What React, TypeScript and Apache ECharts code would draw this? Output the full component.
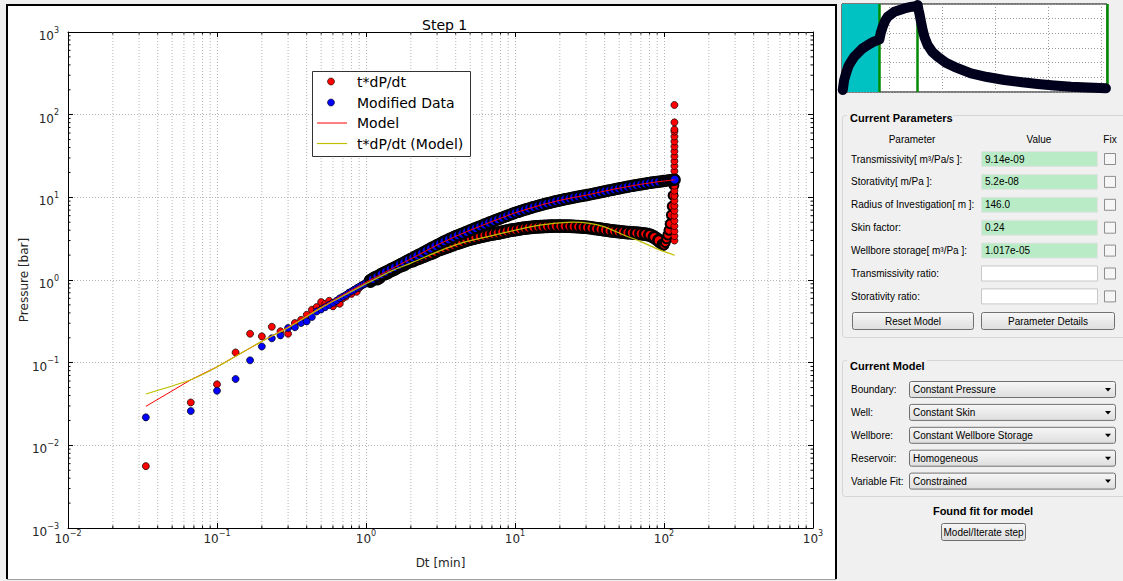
import React, { useEffect, useRef } from "react";
import * as echarts from "echarts";

// ---------- main log-log data ----------
const redEarlyDt = [0.0333, 0.0667, 0.1, 0.1333, 0.1667, 0.2, 0.2333, 0.2667, 0.3, 0.3333, 0.3667, 0.4, 0.4333, 0.4667, 0.5, 0.5333, 0.5667, 0.6, 0.6333, 0.6667, 0.7, 0.7333, 0.7667, 0.8, 0.8333, 0.8667, 0.9, 0.9333, 0.9667, 1.0];
const redEarlyP = [0.0056, 0.033, 0.0546, 0.133, 0.224, 0.208, 0.272, 0.24, 0.224, 0.302, 0.33, 0.38, 0.437, 0.471, 0.542, 0.516, 0.56, 0.48, 0.53, 0.516, 0.6, 0.63, 0.697, 0.68, 0.76, 0.72, 0.8, 0.86, 0.88, 0.92];

const blueEarlyDt = redEarlyDt;
const blueEarlyP = [0.0218, 0.026, 0.0458, 0.0635, 0.1067, 0.157, 0.197, 0.214, 0.263, 0.268, 0.302, 0.316, 0.357, 0.417, 0.44, 0.47, 0.5, 0.53, 0.56, 0.6, 0.63, 0.66, 0.7, 0.73, 0.76, 0.8, 0.83, 0.86, 0.89, 0.93];

const denseDt = [1.07, 1.15, 1.23, 1.32, 1.41, 1.51, 1.62, 1.74, 1.86, 2.0, 2.14, 2.29, 2.45, 2.63, 2.82, 3.02, 3.24, 3.47, 3.72, 3.98, 4.27, 4.57, 4.9, 5.25, 5.62, 6.03, 6.46, 6.92, 7.41, 7.94, 8.51, 9.12, 9.77, 10.5, 11.2, 12.0, 12.9, 13.8, 14.8, 15.8, 17.0, 18.2, 19.5, 20.9, 22.4, 24.0, 25.7, 27.5, 29.5, 31.6, 33.9, 36.3, 38.9, 41.7, 44.7, 47.9, 51.3, 55.0, 58.9, 63.1, 67.6, 72.4, 77.6, 83.2, 89.1, 95.5];
const redDenseP = [0.97, 1.06, 1.08, 1.2, 1.25, 1.33, 1.42, 1.5, 1.6, 1.7, 1.78, 1.85, 1.95, 2.05, 2.15, 2.3, 2.4, 2.5, 2.62, 2.75, 2.86, 2.97, 3.1, 3.2, 3.3, 3.4, 3.5, 3.58, 3.66, 3.75, 3.85, 3.95, 4.05, 4.12, 4.2, 4.27, 4.33, 4.38, 4.42, 4.45, 4.48, 4.5, 4.5, 4.5, 4.48, 4.46, 4.43, 4.4, 4.35, 4.3, 4.22, 4.15, 4.08, 4.0, 3.93, 3.87, 3.82, 3.77, 3.73, 3.7, 3.66, 3.62, 3.55, 3.4, 3.15, 2.85];
const blueDenseP = [1.0, 1.07, 1.14, 1.22, 1.3, 1.39, 1.48, 1.58, 1.69, 1.8, 1.92, 2.04, 2.18, 2.33, 2.5, 2.66, 2.84, 3.02, 3.2, 3.38, 3.55, 3.73, 3.93, 4.14, 4.35, 4.57, 4.8, 5.05, 5.3, 5.55, 5.82, 6.1, 6.4, 6.67, 6.93, 7.2, 7.48, 7.76, 8.05, 8.3, 8.57, 8.84, 9.1, 9.35, 9.6, 9.85, 10.1, 10.35, 10.55, 10.8, 11.1, 11.4, 11.7, 12.0, 12.3, 12.65, 12.95, 13.3, 13.6, 13.9, 14.2, 14.5, 14.8, 15.1, 15.35, 15.6];

const midDt = [1.11, 1.19, 1.27, 1.36, 1.46, 1.56, 1.68, 1.8, 1.93, 2.07, 2.21, 2.37, 2.54, 2.72, 2.92, 3.13, 3.35, 3.59, 3.85, 4.12, 4.42, 4.73, 5.07, 5.43, 5.82, 6.24, 6.68, 7.16, 7.67, 8.22, 8.81, 9.44, 10.1, 10.8, 11.6, 12.4, 13.3, 14.3, 15.3, 16.4, 17.6, 18.8, 20.2, 21.6, 23.2, 24.8, 26.6, 28.5, 30.5, 32.7, 35.1, 37.6, 40.3, 43.2, 46.3, 49.6, 53.1, 56.9, 61.0, 65.3, 70.0, 75.0, 80.4, 86.1, 92.3];
const blueMidP = [1.03, 1.11, 1.18, 1.26, 1.35, 1.43, 1.53, 1.63, 1.75, 1.86, 1.98, 2.11, 2.26, 2.42, 2.58, 2.75, 2.93, 3.11, 3.29, 3.47, 3.64, 3.83, 4.04, 4.25, 4.46, 4.69, 4.93, 5.18, 5.43, 5.69, 5.96, 6.25, 6.54, 6.8, 7.07, 7.34, 7.62, 7.9, 8.18, 8.44, 8.7, 8.97, 9.22, 9.48, 9.72, 9.97, 10.22, 10.45, 10.68, 10.95, 11.25, 11.55, 11.85, 12.15, 12.48, 12.8, 13.12, 13.45, 13.75, 14.05, 14.35, 14.65, 14.95, 15.22, 15.48];
const redMidP = [1.02, 1.04, 1.16, 1.2, 1.3, 1.36, 1.47, 1.54, 1.66, 1.72, 1.82, 1.9, 2.0, 2.1, 2.22, 2.35, 2.45, 2.56, 2.68, 2.8, 2.92, 3.04, 3.15, 3.25, 3.35, 3.45, 3.54, 3.62, 3.7, 3.8, 3.9, 4.0, 4.08, 4.16, 4.23, 4.3, 4.35, 4.4, 4.43, 4.46, 4.49, 4.5, 4.5, 4.49, 4.47, 4.45, 4.42, 4.37, 4.32, 4.26, 4.18, 4.12, 4.04, 3.96, 3.9, 3.84, 3.8, 3.75, 3.72, 3.68, 3.64, 3.59, 3.48, 3.28, 3.0];

const redHookDt = [97, 98.5, 100, 102, 104, 106, 108, 110, 112, 113.5, 115, 116.5];
const redHookP = [2.7, 2.62, 2.65, 2.85, 3.15, 3.5, 4.0, 4.8, 6.1, 7.8, 10.5, 14];
const redColumnDt = 117.5;
const redColumnP = [3.0, 3.4, 3.9, 4.5, 5.2, 6.0, 6.9, 7.9, 9.1, 10.4, 12.0, 13.8, 15.8, 18.1, 20.8, 23.9, 27.4, 31.4, 36, 41.3, 47.4, 54.4, 62.4, 66, 80.7, 131];

const blueTailDt = [99, 102, 106, 110, 114, 118];
const blueTailP = [15.75, 15.85, 16.0, 16.1, 16.2, 16.35];

const modelDt = [0.0333, 0.0667, 0.1, 0.15, 0.2, 0.3, 0.5, 0.7, 1.0, 1.5, 2.0, 3.0, 4.0, 5.0, 7.0, 10, 15, 20, 25, 30, 40, 50, 70, 90, 118];
const modelP = [0.0296, 0.062, 0.089, 0.135, 0.181, 0.27, 0.47, 0.66, 0.94, 1.38, 1.8, 2.65, 3.38, 4.0, 5.1, 6.5, 8.1, 9.2, 10.0, 10.6, 11.9, 12.9, 14.4, 15.4, 16.3];

const derivModelDt = [0.0333, 0.0667, 0.1, 0.2, 0.3, 0.5, 0.7, 1.0, 1.5, 2.0, 3.12, 4.5, 6.78, 10, 14.7, 20, 24.6, 31.7, 40, 53.6, 68.7, 89, 118];
const derivModelP = [0.0418, 0.0622, 0.0887, 0.181, 0.265, 0.46, 0.64, 0.9, 1.3, 1.6, 2.25, 2.85, 3.4, 4.0, 4.6, 4.9, 5.0, 4.85, 4.4, 3.5, 2.95, 2.4, 1.99];

const xDecades = [0.01, 0.1, 1, 10, 100];
const yDecades = [0.001, 0.01, 0.1, 1, 10, 100];
const minorMultipliers = [2, 3, 4, 5, 6, 7, 8, 9];

// ---------- thumbnail data ----------
const thumbT = [0.7, 2, 3.8, 6, 8.5, 11.5, 14.8, 19, 24.2, 29, 33.7, 35.3, 36.5, 38.4, 41, 43.1, 49.4, 58.9, 65, 69.8, 71.4, 72.2, 73, 74.5, 76.1, 78, 80.8, 85, 90.3, 98, 106, 121.7, 137, 153.2, 170, 184.6, 200, 216, 232, 249];
const thumbP = [0.14, 0.8, 1.27, 1.75, 2.07, 2.4, 2.64, 2.95, 3.2, 3.4, 3.54, 3.59, 4.0, 4.45, 4.9, 5.13, 5.47, 5.7, 5.8, 5.86, 5.93, 5.6, 5.36, 4.8, 4.23, 3.7, 3.2, 2.75, 2.41, 2.0, 1.72, 1.27, 1.02, 0.82, 0.66, 0.55, 0.45, 0.36, 0.3, 0.25];
const thumbGridT = [45, 95, 145, 195, 245];
const thumbMarkers = [35.3, 71.4, 250];

// ---------- panel texts ----------
const paramLabels = ["Transmissivity[ m³/Pa/s ]:", "Storativity[ m/Pa ]:", "Radius of Investigation[ m ]:", "Skin factor:", "Wellbore storage[ m³/Pa ]:", "Transmissivity ratio:", "Storativity ratio:"];
const paramValues = ["9.14e-09", "5.2e-08", "146.0", "0.24", "1.017e-05", "", ""];
const modelLabels = ["Boundary:", "Well:", "Wellbore:", "Reservoir:", "Variable Fit:"];
const modelChoices = ["Constant Pressure", "Constant Skin", "Constant Wellbore Storage", "Homogeneous", "Constrained"];
const legendNames = ["t*dP/dt", "Modified Data", "Model", "t*dP/dt (Model)"];

const MPL = "'DejaVu Sans', sans-serif";
const UI = "'Liberation Sans', Arial, sans-serif";
const RED = "#ff0000";
const BLUE = "#0000ff";
const YEL = "#bfbf00";

function zip(a: number[], b: number[]) {
  return a.map((v, i) => [v, b[i]]);
}

function supLabel(v: number) {
  const e = Math.round(Math.log10(v));
  const s = e < 0 ? "\u2212" + -e : String(e);
  return "{b|10}{s|" + s + "}";
}

function txt(x: number, y: number, text: string, o: any = {}) {
  return {
    type: "text",
    x,
    y,
    z: 50,
    silent: true,
    style: {
      text,
      fill: o.fill || "#000",
      font: (o.bold ? "bold " : "") + (o.size || 10) + "px " + (o.family || UI),
      textAlign: o.align || "left",
      textVerticalAlign: "middle",
      verticalAlign: "middle",
    },
  };
}

function rect(x: number, y: number, w: number, h: number, style: any, r = 0, z = 40) {
  return { type: "rect", z, silent: true, shape: { x, y, width: w, height: h, r }, style };
}

const btnFill = {
  type: "linear",
  x: 0,
  y: 0,
  x2: 0,
  y2: 1,
  colorStops: [
    { offset: 0, color: "#f7f7f7" },
    { offset: 1, color: "#dedede" },
  ],
};

function buildGraphic() {
  const g: any[] = [];
  g.push(rect(7, 5, 829, 574, { fill: "#ffffff" }, 0, -1));
  g.push({ type: "polyline", z: 60, silent: true, shape: { points: [[7, 579], [7, 5], [836, 5], [836, 579]] }, style: { stroke: "#000", lineWidth: 2, fill: null } });
  g.push({ type: "line", z: 60, silent: true, shape: { x1: 7, y1: 579.5, x2: 836, y2: 579.5 }, style: { stroke: "#a0a0a0", lineWidth: 1 } });

  // legend
  g.push(rect(312.5, 71.5, 158, 85, { fill: "#fff", stroke: "#333", lineWidth: 1 }, 0, 100));
  const ly = [81.5, 102.5, 123, 143.5];
  g.push({ type: "circle", z: 101, silent: true, shape: { cx: 331, cy: ly[0], r: 3.5 }, style: { fill: RED, stroke: "#000", lineWidth: 0.6 } });
  g.push({ type: "circle", z: 101, silent: true, shape: { cx: 331, cy: ly[1], r: 3.5 }, style: { fill: BLUE, stroke: "#000", lineWidth: 0.6 } });
  g.push({ type: "line", z: 101, silent: true, shape: { x1: 317, y1: ly[2], x2: 347, y2: ly[2] }, style: { stroke: RED, lineWidth: 1 } });
  g.push({ type: "line", z: 101, silent: true, shape: { x1: 317, y1: ly[3], x2: 347, y2: ly[3] }, style: { stroke: YEL, lineWidth: 1.2 } });
  legendNames.forEach((n, i) => {
    const t: any = txt(357, ly[i], n, { size: 14, family: MPL });
    t.z = 101;
    g.push(t);
  });

  // ---- right panel ----
  g.push(rect(842.5, 115.5, 290, 222, { fill: "#f0f0f0", stroke: "#d5d5d5", lineWidth: 1 }, 3, 30));
  g.push(rect(847, 110, 106, 14, { fill: "#f0f0f0" }, 0, 31));
  g.push(txt(850, 118, "Current Parameters", { bold: true, size: 11 }));
  g.push(txt(912, 139, "Parameter", { align: "center" }));
  g.push(txt(1039, 139, "Value", { align: "center" }));
  g.push(txt(1110, 139, "Fix", { align: "center" }));
  paramLabels.forEach((lab, i) => {
    const cy = 159 + i * 22.9;
    g.push(txt(851, cy, lab));
    const filled = paramValues[i] !== "";
    g.push(rect(981.5, cy - 7.5, 116, 15, { fill: filled ? "#b9ecc6" : "#ffffff", stroke: filled ? "#e2e2e2" : "#c8c8c8", lineWidth: 1 }, 0, 40));
    if (filled) g.push(txt(985, cy, paramValues[i]));
    g.push(rect(1104.5, cy - 5.5, 11, 11, { fill: "#f6f6f6", stroke: "#8e8e8e", lineWidth: 1 }, 0, 40));
  });
  g.push(rect(852.5, 312.5, 121, 17, { fill: btnFill, stroke: "#707070", lineWidth: 1 }, 2, 40));
  g.push(txt(913, 321, "Reset Model", { align: "center" }));
  g.push(rect(981.5, 312.5, 133, 17, { fill: btnFill, stroke: "#707070", lineWidth: 1 }, 2, 40));
  g.push(txt(1048, 321, "Parameter Details", { align: "center" }));

  g.push(rect(842.5, 360.5, 290, 136, { fill: "#f0f0f0", stroke: "#d5d5d5", lineWidth: 1 }, 3, 30));
  g.push(rect(847, 358, 80, 14, { fill: "#f0f0f0" }, 0, 31));
  g.push(txt(850, 366, "Current Model", { bold: true, size: 11 }));
  modelLabels.forEach((lab, i) => {
    const cy = 389.5 + i * 22.9;
    g.push(txt(851, cy, lab));
    g.push(rect(909.5, cy - 8, 206, 16, { fill: btnFill, stroke: "#707070", lineWidth: 1 }, 2, 40));
    g.push(txt(913, cy, modelChoices[i]));
    g.push({ type: "polygon", z: 50, silent: true, shape: { points: [[1105, cy - 1.5], [1111, cy - 1.5], [1108, cy + 2]] }, style: { fill: "#000" } });
  });

  g.push(txt(983, 511, "Found fit for model", { bold: true, size: 11, align: "center" }));
  g.push(rect(941.5, 523.5, 84, 17, { fill: btnFill, stroke: "#707070", lineWidth: 1 }, 2, 40));
  g.push(txt(983.5, 532, "Model/Iterate step", { align: "center" }));
  return g;
}

export default function App() {
  const ref = useRef<HTMLDivElement>(null);
  useEffect(() => {
    if (!ref.current) return;
    const chart = echarts.init(ref.current, undefined, { renderer: "svg" });

    const dense = (pairs: number[][], size: number, bw: number) =>
      pairs.map((v) => ({ value: v, symbolSize: size, itemStyle: { borderWidth: bw } }));

    const redData: any[] = (zip(redEarlyDt, redEarlyP) as any[])
      .concat(dense(zip(denseDt, redDenseP), 11, 2.6))
      .concat(dense(zip(midDt, redMidP), 11, 2.6))
      .concat(dense(zip(redHookDt, redHookP), 9, 2))
      .concat(redColumnP.map((p) => [redColumnDt, p]));
    const blueData: any[] = (zip(blueEarlyDt, blueEarlyP) as any[])
      .concat(dense(zip(denseDt, blueDenseP), 10, 2.2))
      .concat(dense(zip(midDt, blueMidP), 10, 2.2))
      .concat(dense(zip(blueTailDt, blueTailP), 10, 2.2));

    const minorX: number[] = [];
    xDecades.forEach((d) => minorMultipliers.forEach((m) => minorX.push(d * m)));
    const minorY: number[] = [];
    yDecades.forEach((d) => minorMultipliers.forEach((m) => minorY.push(d * m)));
    const minorData = minorX.map((v) => [v, 1, 0]).concat(minorY.map((v) => [1, v, 1]));

    const gridDot = { color: "#b4b4b4", width: 1, type: [1, 2] as any };
    const rich = {
      b: { fontSize: 12, fontFamily: MPL, color: "#262626", lineHeight: 16, verticalAlign: "bottom" },
      s: { fontSize: 8, fontFamily: MPL, color: "#262626", verticalAlign: "top" },
    };

    const option: any = {
      animation: false,
      backgroundColor: "#f0f0f0",
      title: {
        text: "Step 1",
        left: 417,
        top: 13,
        textStyle: { fontFamily: MPL, fontSize: 14, fontWeight: "normal", color: "#000" },
      },
      grid: [
        { left: 68, right: 310, top: 32, bottom: 53 },
        { left: 842, top: 4, width: 265, height: 88, show: true, backgroundColor: "#fff", borderColor: "#000", borderWidth: 1 },
      ],
      xAxis: [
        {
          type: "log",
          gridIndex: 0,
          logBase: 10,
          min: 0.01,
          max: 1000,
          position: "bottom",
          name: "Dt [min]",
          nameLocation: "middle",
          nameGap: 29,
          nameMoveOverlap: false,
          nameTextStyle: { fontFamily: MPL, fontSize: 12, color: "#262626" },
          axisLine: { show: true, lineStyle: { color: "#000", width: 1 } },
          axisTick: { show: true, inside: true, length: 5, lineStyle: { color: "#000" } },
          axisLabel: { formatter: supLabel, rich, margin: 1 },
          splitLine: { show: true, lineStyle: gridDot },
        },
        {
          type: "log",
          gridIndex: 0,
          logBase: 10,
          min: 0.01,
          max: 1000,
          position: "top",
          axisLine: { show: true, lineStyle: { color: "#000", width: 1 } },
          axisTick: { show: true, inside: true, length: 5, lineStyle: { color: "#000" } },
          axisLabel: { show: false },
          splitLine: { show: false },
        },
        {
          type: "value",
          gridIndex: 1,
          min: 0,
          max: 250,
          axisLine: { show: false },
          axisTick: { show: false },
          axisLabel: { show: false },
          splitLine: { show: false },
        },
      ],
      yAxis: [
        {
          type: "log",
          gridIndex: 0,
          logBase: 10,
          min: 0.001,
          max: 1000,
          position: "left",
          name: "Pressure [bar]",
          nameLocation: "middle",
          nameGap: 38,
          nameMoveOverlap: false,
          nameTextStyle: { fontFamily: MPL, fontSize: 12, color: "#262626" },
          axisLine: { show: true, lineStyle: { color: "#000", width: 1 } },
          axisTick: { show: true, inside: true, length: 5, lineStyle: { color: "#000" } },
          axisLabel: { formatter: supLabel, rich, margin: 9, padding: [4, 0, 0, 0] },
          splitLine: { show: true, lineStyle: gridDot },
        },
        {
          type: "log",
          gridIndex: 0,
          logBase: 10,
          min: 0.001,
          max: 1000,
          position: "right",
          axisLine: { show: true, lineStyle: { color: "#000", width: 1 } },
          axisTick: { show: true, inside: true, length: 5, lineStyle: { color: "#000" } },
          axisLabel: { show: false },
          splitLine: { show: false },
        },
        {
          type: "value",
          gridIndex: 1,
          min: 0,
          max: 6,
          interval: 1,
          axisLine: { show: false },
          axisTick: { show: true, inside: true, length: 3, lineStyle: { color: "#000" } },
          axisLabel: { show: false },
          splitLine: { show: true, lineStyle: { color: "#999", type: [1, 2] } },
        },
      ],
      series: [
        {
          type: "custom",
          xAxisIndex: 0,
          yAxisIndex: 0,
          silent: true,
          z: 1,
          encode: { x: 0, y: 1 },
          data: minorData,
          renderItem: (params: any, api: any) => {
            const kind = api.value(2);
            if (kind === 0) {
              const v = api.value(0);
              const top = api.coord([v, 1000]);
              const bot = api.coord([v, 0.001]);
              return {
                type: "group",
                children: [
                  { type: "line", shape: { x1: top[0], y1: top[1], x2: bot[0], y2: bot[1] }, style: { stroke: "#b4b4b4", lineWidth: 1, lineDash: [1, 2] } },
                  { type: "line", shape: { x1: bot[0], y1: bot[1], x2: bot[0], y2: bot[1] - 2.5 }, style: { stroke: "#000", lineWidth: 1 } },
                  { type: "line", shape: { x1: top[0], y1: top[1], x2: top[0], y2: top[1] + 2.5 }, style: { stroke: "#000", lineWidth: 1 } },
                ],
              };
            }
            const w = api.value(1);
            const l = api.coord([0.01, w]);
            const r = api.coord([1000, w]);
            return {
              type: "group",
              children: [
                { type: "line", shape: { x1: l[0], y1: l[1], x2: l[0] + 2.5, y2: l[1] }, style: { stroke: "#000", lineWidth: 1 } },
                { type: "line", shape: { x1: r[0], y1: r[1], x2: r[0] - 2.5, y2: r[1] }, style: { stroke: "#000", lineWidth: 1 } },
              ],
            };
          },
        },
        {
          name: legendNames[0],
          type: "scatter",
          xAxisIndex: 0,
          yAxisIndex: 0,
          z: 3,
          symbol: "circle",
          symbolSize: 7,
          itemStyle: { color: RED, borderColor: "#000", borderWidth: 0.7, opacity: 1 },
          data: redData,
        },
        {
          name: legendNames[1],
          type: "scatter",
          xAxisIndex: 0,
          yAxisIndex: 0,
          z: 4,
          symbol: "circle",
          symbolSize: 7,
          itemStyle: { color: BLUE, borderColor: "#000", borderWidth: 0.7, opacity: 1 },
          data: blueData,
        },
        {
          name: legendNames[2],
          type: "line",
          xAxisIndex: 0,
          yAxisIndex: 0,
          z: 5,
          showSymbol: false,
          symbol: "none",
          lineStyle: { color: RED, width: 1 },
          data: zip(modelDt, modelP),
        },
        {
          name: legendNames[3],
          type: "line",
          xAxisIndex: 0,
          yAxisIndex: 0,
          z: 5,
          showSymbol: false,
          symbol: "none",
          smooth: 0.2,
          lineStyle: { color: YEL, width: 1.2 },
          data: zip(derivModelDt, derivModelP),
        },
        {
          name: "overview",
          type: "line",
          xAxisIndex: 2,
          yAxisIndex: 2,
          z: 5,
          showSymbol: false,
          symbol: "none",
          clip: true,
          lineStyle: { color: "#00001c", width: 10, cap: "round", join: "round" },
          data: zip(thumbT, thumbP),
          markArea: {
            silent: true,
            itemStyle: { color: "#00c2c2", opacity: 1 },
            data: [[{ xAxis: 0 }, { xAxis: thumbMarkers[0] }]],
          },
          markLine: {
            silent: true,
            symbol: "none",
            label: { show: false },
            data: thumbGridT
              .map((t) => ({ xAxis: t, lineStyle: { color: "#999", width: 1, type: [1, 2] } }))
              .concat(thumbMarkers.map((t) => ({ xAxis: t, lineStyle: { color: "#008a00", width: 2.5, type: "solid" } }))),
          },
        },
      ],
      graphic: { elements: buildGraphic() },
    };

    chart.setOption(option);
    return () => chart.dispose();
  }, []);

  return <div ref={ref} style={{ position: "absolute", left: 0, top: 0, width: 1123, height: 581 }} />;
}
